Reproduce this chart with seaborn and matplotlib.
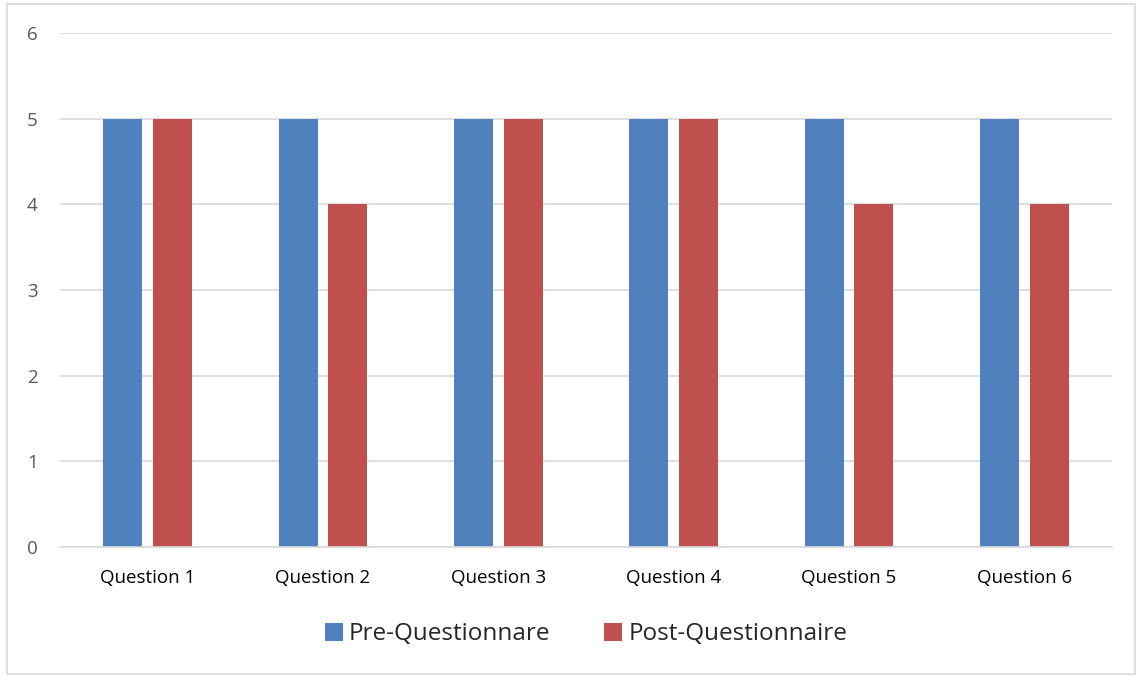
import matplotlib
matplotlib.use("Agg")
import matplotlib.pyplot as plt
import seaborn as sns
import pandas as pd
from matplotlib.patches import Rectangle

questions = ["Question 1", "Question 2", "Question 3",
             "Question 4", "Question 5", "Question 6"]
pre_scores = [5, 5, 5, 5, 5, 5]
post_scores = [5, 4, 5, 5, 4, 4]
series_names = ["Pre-Questionnare", "Post-Questionnaire"]
colors = ["#4F81BD", "#C0504D"]

df = pd.DataFrame({
    "question": questions * 2,
    "score": pre_scores + post_scores,
    "series": [series_names[0]] * len(questions) + [series_names[1]] * len(questions),
})

sns.set_style("white")
plt.rcParams['font.family'] = ['Open Sans', 'DejaVu Sans']

fig = plt.figure(figsize=(11.41, 6.76), dpi=100)
ax = fig.add_axes([60 / 1141, 1 - 547 / 676, 1052 / 1141, 514 / 676])

sns.barplot(data=df, x="question", y="score", hue="series",
            palette=colors, width=0.57, gap=0.22, ax=ax,
            saturation=1, linewidth=0, legend=True)

ax.set_ylim(0, 6)
ax.set_xlim(-0.5, 5.5)
ax.set_yticks(range(0, 7))
ax.yaxis.grid(True, color="#D9D9D9", linewidth=1.2)
ax.set_axisbelow(True)
for s in ["top", "right", "left"]:
    ax.spines[s].set_visible(False)
ax.spines["bottom"].set_color("#D9D9D9")
ax.spines["bottom"].set_linewidth(1.2)
ax.tick_params(axis="y", length=0, pad=16, labelsize=13.5, labelcolor="#595959")
ax.tick_params(axis="x", length=0, pad=16, labelsize=13.5, labelcolor="#000000")
ax.set_xlabel("")
ax.set_ylabel("")

handles, labels = ax.get_legend_handles_labels()
ax.legend(handles, labels, loc="center", bbox_to_anchor=(0.5, -0.17),
          ncol=2, frameon=False, fontsize=17.5, handlelength=0.75,
          handleheight=0.75, handletextpad=0.25, columnspacing=2.2)

fig.patches.append(Rectangle((7 / 1141, 2 / 676), 1128 / 1141, 670 / 676,
                             transform=fig.transFigure, fill=False,
                             edgecolor="#D9D9D9", linewidth=1.2))

fig.savefig("out.png", dpi=100)
